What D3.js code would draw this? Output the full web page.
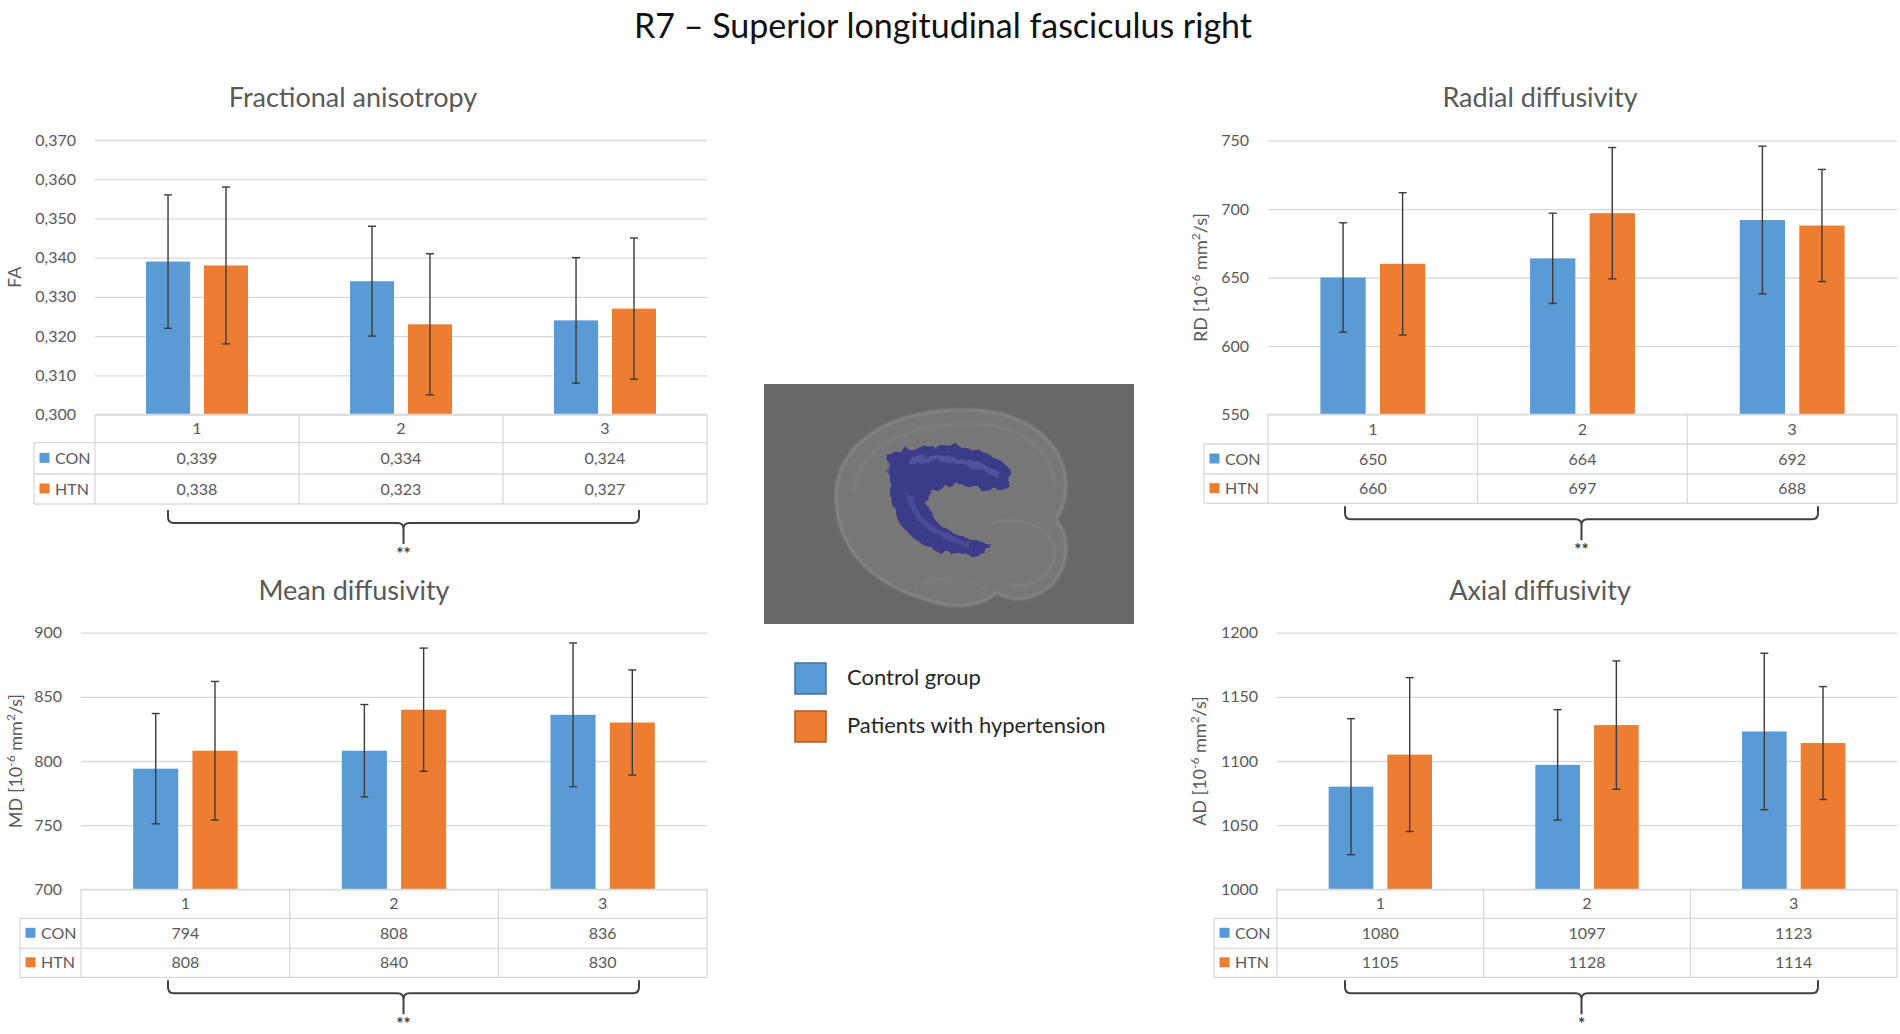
<!DOCTYPE html>
<html>
<head>
<meta charset="utf-8">
<title>R7 – Superior longitudinal fasciculus right</title>
<script src="https://cdn.jsdelivr.net/npm/d3@7"></script>
<style>
  html, body { margin: 0; padding: 0; background: #ffffff; }
  svg { display: block; font-family: Lato, "Open Sans", sans-serif; }
</style>
</head>
<body>
<svg id="chart" width="1900" height="1034"></svg>
<script>
// data

const categories = ['1', '2', '3'];
const seriesKeys = ['CON', 'HTN'];
const legendNames = ['Control group', 'Patients with hypertension'];

// fractional anisotropy
const faCon = [0.339, 0.334, 0.324];
const faHtn = [0.338, 0.323, 0.327];
const faConSd = [0.017, 0.014, 0.016];
const faHtnSd = [0.020, 0.018, 0.018];
const faTicks = [0.300, 0.310, 0.320, 0.330, 0.340, 0.350, 0.360, 0.370];

// radial diffusivity
const rdCon = [650, 664, 692];
const rdHtn = [660, 697, 688];
const rdConSd = [40, 33, 54];
const rdHtnSd = [52, 48, 41];
const rdTicks = [550, 600, 650, 700, 750];

// mean diffusivity
const mdCon = [794, 808, 836];
const mdHtn = [808, 840, 830];
const mdConSd = [43, 36, 56];
const mdHtnSd = [54, 48, 41];
const mdTicks = [700, 750, 800, 850, 900];

// axial diffusivity
const adCon = [1080, 1097, 1123];
const adHtn = [1105, 1128, 1114];
const adConSd = [53, 43, 61];
const adHtnSd = [60, 50, 44];
const adTicks = [1000, 1050, 1100, 1150, 1200];

const significance = { fa: '**', rd: '**', md: '**', ad: '*' };

const ChartUI = (() => {

  const COLORS = ['#5b9bd5', '#ed7d31'];
  const BORDERS = ['#41719c', '#ae5a21'];
  const GRID = '#d9d9d9';
  const TEXT = '#595959';
  const ERR = '#3a3a3a';

  // decimal comma, as in the original figure
  const locale = d3.formatLocale({ decimal: ',', thousands: ' ', grouping: [3], currency: ['', ''] });

  const svg = d3.select('#chart');

  /**
   * draws one bar chart with its data table underneath
   * @param {Object} cfg - layout + data for one panel
   */
  function drawPanel(cfg) {
    const g = svg.append('g');
    const fmt = locale.format(cfg.format);

    const y = d3.scaleLinear()
      .domain(d3.extent(cfg.ticks))
      .range([cfg.bottom, cfg.top]);

    const x = d3.scaleBand()
      .domain(categories)
      .range([cfg.left, cfg.right])
      .padding(0);

    const bw = x.bandwidth();
    const xs = d3.scaleBand()
      .domain(seriesKeys)
      .range([bw * 0.25, bw * 0.75])
      .paddingInner(0.24)
      .paddingOuter(0);

    // title
    g.append('text')
      .attr('x', cfg.titleX)
      .attr('y', cfg.titleY)
      .attr('text-anchor', 'middle')
      .attr('fill', TEXT)
      .attr('font-size', 27)
      .text(cfg.title);

    // y axis with gridlines
    const axis = g.append('g')
      .attr('transform', `translate(${cfg.left},0)`)
      .call(d3.axisLeft(y)
        .tickValues(cfg.ticks)
        .tickFormat(fmt)
        .tickSize(-(cfg.right - cfg.left))
        .tickPadding(19));
    axis.select('.domain').remove();
    axis.selectAll('line').attr('stroke', GRID).attr('stroke-width', 1.3);
    axis.selectAll('text')
      .attr('fill', TEXT)
      .attr('font-size', 16)
      .attr('font-family', 'Lato, "Open Sans", sans-serif');

    // y axis label
    const yl = g.append('text')
      .attr('transform', `translate(${cfg.labelX},${(cfg.top + cfg.bottom) / 2}) rotate(-90)`)
      .attr('text-anchor', 'middle')
      .attr('fill', TEXT)
      .attr('font-size', 18);
    cfg.yLabel.forEach(part => {
      const t = yl.append('tspan').text(part.t);
      if (part.sup) t.attr('font-size', 12).attr('dy', -7);
      if (part.down) t.attr('dy', 7);
    });

    // bars
    const series = [
      { key: 'CON', values: cfg.con, sd: cfg.conSd, color: COLORS[0] },
      { key: 'HTN', values: cfg.htn, sd: cfg.htnSd, color: COLORS[1] }
    ];
    const flat = [];
    series.forEach(s => categories.forEach((c, i) => {
      flat.push({ cat: c, key: s.key, v: s.values[i], sd: s.sd[i], color: s.color });
    }));

    g.selectAll('rect.bar')
      .data(flat)
      .enter()
      .append('rect')
      .attr('class', 'bar')
      .attr('x', d => x(d.cat) + xs(d.key))
      .attr('y', d => y(d.v))
      .attr('width', xs.bandwidth())
      .attr('height', d => y(y.domain()[0]) - y(d.v))
      .attr('fill', d => d.color);

    // error bars (mean ± sd)
    const eb = g.selectAll('g.err')
      .data(flat)
      .enter()
      .append('g')
      .attr('class', 'err')
      .attr('stroke', ERR)
      .attr('stroke-width', 1.4);
    const cx = d => x(d.cat) + xs(d.key) + xs.bandwidth() / 2;
    eb.append('line')
      .attr('x1', cx).attr('x2', cx)
      .attr('y1', d => y(d.v + d.sd)).attr('y2', d => y(d.v - d.sd));
    [1, -1].forEach(k => {
      eb.append('line')
        .attr('x1', d => cx(d) - 4).attr('x2', d => cx(d) + 4)
        .attr('y1', d => y(d.v + k * d.sd)).attr('y2', d => y(d.v + k * d.sd));
    });

    // data table
    const rows = cfg.rows;
    const tb = g.append('g').attr('stroke', GRID).attr('stroke-width', 1.3).attr('fill', 'none');
    tb.append('line').attr('x1', cfg.left).attr('x2', cfg.right).attr('y1', rows[0]).attr('y2', rows[0]);
    rows.slice(1).forEach(r => {
      tb.append('line').attr('x1', cfg.legendLeft).attr('x2', cfg.right).attr('y1', r).attr('y2', r);
    });
    tb.append('line').attr('x1', cfg.legendLeft).attr('x2', cfg.legendLeft).attr('y1', rows[1]).attr('y2', rows[3]);
    categories.forEach(c => {
      tb.append('line').attr('x1', x(c)).attr('x2', x(c)).attr('y1', rows[0]).attr('y2', rows[3]);
    });
    tb.append('line').attr('x1', cfg.right).attr('x2', cfg.right).attr('y1', rows[0]).attr('y2', rows[3]);

    const rowMid = i => (rows[i] + rows[i + 1]) / 2 + 5.5;

    g.selectAll('text.cat')
      .data(categories)
      .enter()
      .append('text')
      .attr('class', 'cat')
      .attr('x', d => x(d) + bw / 2)
      .attr('y', rowMid(0))
      .attr('text-anchor', 'middle')
      .attr('fill', TEXT)
      .attr('font-size', 16)
      .text(d => d);

    series.forEach((s, si) => {
      const ry = rowMid(si + 1);
      g.append('rect')
        .attr('x', cfg.legendLeft + 5.5)
        .attr('y', ry - 11)
        .attr('width', 10)
        .attr('height', 10)
        .attr('fill', s.color);
      g.append('text')
        .attr('x', cfg.legendLeft + 21)
        .attr('y', ry)
        .attr('fill', TEXT)
        .attr('font-size', 16)
        .text(s.key);
      g.selectAll(null)
        .data(s.values)
        .enter()
        .append('text')
        .attr('x', (d, i) => x(categories[i]) + bw / 2)
        .attr('y', ry)
        .attr('text-anchor', 'middle')
        .attr('fill', TEXT)
        .attr('font-size', 16)
        .text(d => fmt(d));
    });

    // significance brace (placed like in the figure, not tied to bars)
    const xL = cfg.braceL;
    const xR = cfg.braceR;
    const xC = (xL + xR) / 2;
    const top = rows[3] + cfg.braceGap;
    const line = top + 13;
    const tip = line + 21;
    const r = 6;
    g.append('path')
      .attr('d', `M${xL},${top} V${line - r} Q${xL},${line} ${xL + r},${line} H${xC - r} Q${xC},${line} ${xC},${line + r} V${tip}`
        + ` M${xC},${line + r} Q${xC},${line} ${xC + r},${line} H${xR - r} Q${xR},${line} ${xR},${line - r} V${top}`)
      .attr('fill', 'none')
      .attr('stroke', '#404040')
      .attr('stroke-width', 2);
    g.append('text')
      .attr('x', xC)
      .attr('y', tip + 16)
      .attr('text-anchor', 'middle')
      .attr('fill', '#404040')
      .attr('font-size', 17)
      .attr('font-weight', 'bold')
      .text(cfg.sig);
  }

  // tract picture in the middle (illustration only)
  function drawBrain() {
    const defs = svg.append('defs');
    const f = defs.append('filter').attr('id', 'rough').attr('x', '-20%').attr('y', '-20%').attr('width', '140%').attr('height', '140%');
    f.append('feTurbulence').attr('type', 'fractalNoise').attr('baseFrequency', 0.09).attr('numOctaves', 2).attr('seed', 3).attr('result', 'n');
    f.append('feDisplacementMap').attr('in', 'SourceGraphic').attr('in2', 'n').attr('scale', 12);
    const blur = defs.append('filter').attr('id', 'soft');
    blur.append('feGaussianBlur').attr('stdDeviation', 1.2);

    const g = svg.append('g').attr('transform', 'translate(764,384)');
    g.append('rect').attr('width', 370).attr('height', 240).attr('fill', '#686868');

    const brain = g.append('g').attr('fill', '#777777').attr('stroke', '#8c8c8c').attr('stroke-width', 2).attr('filter', 'url(#soft)');
    brain.append('path')
      .attr('d', 'M72,118 C68,55 135,22 212,26 C268,30 300,62 302,98 C303,118 296,128 292,136 C306,150 306,182 288,200 C272,216 248,220 232,208 C222,220 196,226 170,218 C126,206 76,180 72,118 Z');
    brain.append('path')
      .attr('d', 'M90,110 C92,60 150,38 214,40 C262,44 290,70 290,100')
      .attr('fill', 'none').attr('stroke-opacity', 0.45);
    brain.append('path')
      .attr('d', 'M228,140 C250,130 285,140 290,165 C292,190 268,206 245,200')
      .attr('fill', 'none').attr('stroke-opacity', 0.55);
    brain.append('path')
      .attr('d', 'M150,205 C170,190 200,192 226,206')
      .attr('fill', 'none').attr('stroke-opacity', 0.4);

    const tract = g.append('g').attr('filter', 'url(#rough)');
    tract.append('path')
      .attr('d', 'M126,72 C150,56 200,58 232,74 C248,82 252,96 244,104 C225,110 200,100 182,101 C166,104 161,114 166,127 C173,146 196,154 226,159 C223,170 200,173 180,169 C150,161 132,141 128,116 C124,96 121,82 126,72 Z')
      .attr('fill', '#3b3b8a');
    tract.append('path')
      .attr('d', 'M145,78 C175,70 210,76 236,92')
      .attr('fill', 'none').attr('stroke', '#5858a8').attr('stroke-width', 6).attr('stroke-opacity', 0.8);
    tract.append('path')
      .attr('d', 'M145,110 C148,135 170,152 205,160')
      .attr('fill', 'none').attr('stroke', '#5050a0').attr('stroke-width', 5).attr('stroke-opacity', 0.8);
  }

  function drawLegend() {
    const g = svg.append('g');
    legendNames.forEach((name, i) => {
      const y0 = 663 + i * 48;
      g.append('rect')
        .attr('x', 795).attr('y', y0)
        .attr('width', 31).attr('height', 31)
        .attr('fill', COLORS[i])
        .attr('stroke', BORDERS[i])
        .attr('stroke-width', 1.5);
      g.append('text')
        .attr('x', 847).attr('y', y0 + 22)
        .attr('fill', '#262626')
        .attr('font-size', 22)
        .text(name);
    });
  }

  function init() {
    svg.append('text')
      .attr('x', 943)
      .attr('y', 38)
      .attr('text-anchor', 'middle')
      .attr('fill', '#111')
      .attr('font-size', 34)
      .text('R7 – Superior longitudinal fasciculus right');

    const diffLabel = code => [
      { t: code + ' [10' }, { t: '-6', sup: true }, { t: ' mm', down: true },
      { t: '2', sup: true }, { t: '/s]', down: true }
    ];

    drawPanel({
      title: 'Fractional anisotropy', titleX: 353, titleY: 107,
      left: 95, right: 707, top: 140, bottom: 414.5,
      rows: [414.5, 442.7, 474, 504], legendLeft: 34, labelX: 21,
      yLabel: [{ t: 'FA' }], ticks: faTicks, format: '.3f',
      con: faCon, htn: faHtn, conSd: faConSd, htnSd: faHtnSd,
      sig: significance.fa, braceGap: 6, braceL: 168, braceR: 639
    });
    drawPanel({
      title: 'Radial diffusivity', titleX: 1540, titleY: 107,
      left: 1268, right: 1897, top: 140.7, bottom: 414.3,
      rows: [414.3, 444, 474, 503.3], legendLeft: 1204, labelX: 1207,
      yLabel: diffLabel('RD'), ticks: rdTicks, format: 'd',
      con: rdCon, htn: rdHtn, conSd: rdConSd, htnSd: rdHtnSd,
      sig: significance.rd, braceGap: 3, braceL: 1345, braceR: 1818
    });
    drawPanel({
      title: 'Mean diffusivity', titleX: 354, titleY: 600,
      left: 81, right: 707, top: 632.7, bottom: 889.3,
      rows: [889.3, 918.3, 948.3, 977.3], legendLeft: 20, labelX: 22,
      yLabel: diffLabel('MD'), ticks: mdTicks, format: 'd',
      con: mdCon, htn: mdHtn, conSd: mdConSd, htnSd: mdHtnSd,
      sig: significance.md, braceGap: 3, braceL: 168, braceR: 639
    });
    drawPanel({
      title: 'Axial diffusivity', titleX: 1540, titleY: 600,
      left: 1277, right: 1897, top: 632.7, bottom: 889.3,
      rows: [889.3, 918.3, 948.3, 977.3], legendLeft: 1214, labelX: 1206,
      yLabel: diffLabel('AD'), ticks: adTicks, format: 'd',
      con: adCon, htn: adHtn, conSd: adConSd, htnSd: adHtnSd,
      sig: significance.ad, braceGap: 3, braceL: 1345, braceR: 1818
    });

    drawBrain();
    drawLegend();
  }

  return { init };

})();

ChartUI.init();
</script>
</body>
</html>
